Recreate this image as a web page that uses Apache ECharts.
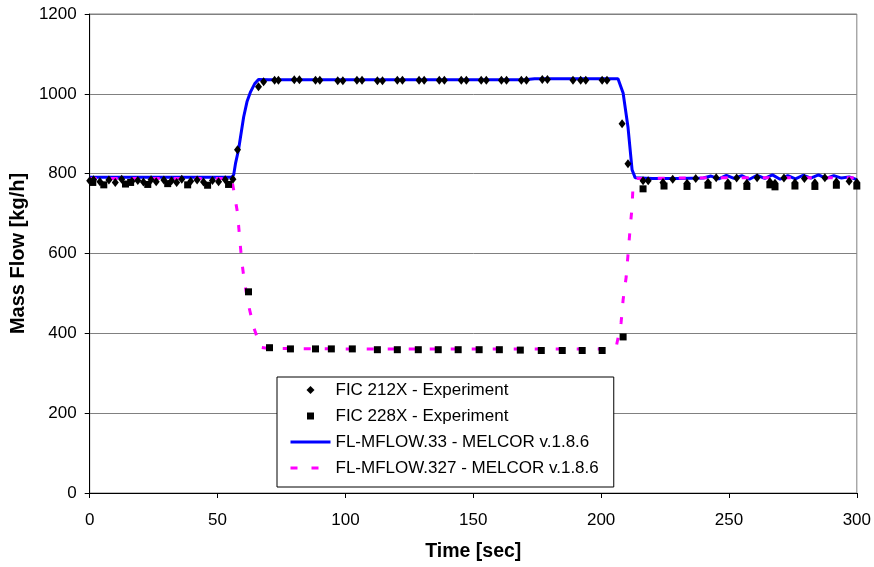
<!DOCTYPE html>
<html>
<head>
<meta charset="utf-8">
<script src="https://cdn.jsdelivr.net/npm/echarts@6/dist/echarts.min.js"></script>
<style>
  html, body { margin: 0; padding: 0; background: #fff; }
  #chart { width: 874px; height: 567px; }
</style>
</head>
<body>
<div id="chart"></div>
<script>
// ---- axis ticks ----
const xTicks = [0, 50, 100, 150, 200, 250, 300];
const yTicks = [0, 200, 400, 600, 800, 1000, 1200];

// ---- series names ----
const seriesNames = [
  'FIC 212X - Experiment',
  'FIC 228X - Experiment',
  'FL-MFLOW.33 - MELCOR v.1.8.6',
  'FL-MFLOW.327 - MELCOR v.1.8.6'
];

// ---- FIC 212X experiment (diamonds) [time, kg/h] ----
const fic212x = [
  [0, 782], [1.5, 785], [4, 780], [7.5, 784], [10, 778], [12.5, 786], [16.5, 781], [18.8, 783],
  [21, 779], [24, 785], [26, 780], [29, 784], [32, 782], [34, 778], [36, 786], [39.5, 781],
  [42, 784], [44.5, 779], [48, 783], [50.4, 780], [53, 785], [56, 786],
  [57.8, 860], [66, 1018], [68, 1030], [72.3, 1034], [73.8, 1034], [80, 1035], [82, 1035],
  [88.3, 1034], [90, 1034], [97, 1033], [99, 1033], [104.5, 1034], [106.5, 1034],
  [112.5, 1033], [114.5, 1033], [120.3, 1034], [122.3, 1034], [128.8, 1034], [130.8, 1034],
  [136.7, 1034], [138.7, 1034], [145.3, 1034], [147.3, 1034], [153.1, 1034], [155.1, 1034],
  [161, 1034], [163, 1034], [168.8, 1034], [170.8, 1034], [177, 1036], [179, 1036],
  [189, 1034], [192, 1034], [194, 1034], [200.4, 1034], [202.3, 1034],
  [208.2, 925], [210.5, 825], [216.4, 782], [218.4, 782],
  [224.2, 778], [228, 786], [233.6, 776], [237, 788], [241.8, 778], [245, 790], [249.6, 777],
  [253, 789], [257, 776], [261, 790], [266, 780], [268, 776], [271.5, 789], [275.8, 777],
  [279.5, 788], [283.6, 777], [287.5, 790], [292, 780], [297, 781], [300, 778]
];

// ---- FIC 228X experiment (squares) [time, kg/h] ----
const fic228x = [
  [1.2, 778], [5.5, 772], [14, 774], [16, 778], [22.7, 773], [30.5, 775], [38.3, 772],
  [46.1, 771], [54.3, 773],
  [62.1, 504], [70.3, 364], [78.5, 361], [88.3, 361], [94.5, 361], [102.7, 361],
  [112.5, 359], [120.3, 359], [128.5, 359], [136.3, 359], [144.1, 359], [152.3, 359],
  [160.2, 359], [168.4, 358], [176.6, 357], [184.8, 357], [192.6, 357], [200.4, 357],
  [208.6, 391],
  [216.4, 762], [224.6, 769], [233.6, 768], [241.8, 771], [249.6, 769], [257, 768],
  [266, 772], [268, 767], [275.8, 769], [283.6, 768], [292, 771], [300, 769]
];

// ---- FL-MFLOW.33 MELCOR (blue solid) [time, kg/h] ----
const mflow33 = [
  [0, 791], [20, 791], [40, 791], [55.5, 791], [56.3, 797], [57, 825], [58.2, 860],
  [60.2, 942], [61.5, 980], [62.9, 1005], [64.5, 1025], [66, 1036], [70, 1035],
  [100, 1035], [130, 1035], [160, 1035], [170, 1035], [174, 1038], [200, 1038],
  [206.6, 1038], [208.6, 1002], [210.5, 917], [212.1, 810], [213.3, 790], [220, 788],
  [230, 788], [240, 789], [243, 794], [246, 787], [249, 796], [252, 788], [255, 795],
  [258, 786], [261, 796], [264, 788], [267, 797], [270, 786], [273, 795], [276, 787],
  [279, 796], [282, 789], [285, 797], [288, 788], [291, 795], [294, 789], [297, 792],
  [300, 785]
];

// ---- FL-MFLOW.327 MELCOR (magenta dashed) [time, kg/h] ----
const mflow327 = [
  [0, 788], [55.5, 788], [56.3, 759], [57.8, 702], [58.6, 642], [59.4, 584], [60.5, 529],
  [62.1, 471], [64.1, 416], [66.8, 365], [70, 362], [100, 361], [150, 361], [200, 361],
  [205.9, 366], [207.8, 426], [208.6, 484], [209.8, 541], [210.5, 596], [211.3, 659],
  [212.1, 717], [212.5, 772], [214, 788], [250, 790], [300, 790]
];

const FONT = 'Liberation Sans, Arial, sans-serif';
const chart = echarts.init(document.getElementById('chart'), null, { renderer: 'canvas' });

chart.setOption({
  animation: false,
  backgroundColor: '#ffffff',
  grid: {
    left: 89, top: 14, right: 17, bottom: 74,
    show: true, borderColor: '#808080', borderWidth: 1, backgroundColor: 'transparent'
  },
  xAxis: {
    type: 'value',
    min: xTicks[0], max: xTicks[xTicks.length - 1], interval: xTicks[1] - xTicks[0],
    name: 'Time [sec]', nameLocation: 'middle', nameGap: 49,
    nameTextStyle: { fontFamily: FONT, fontWeight: 'bold', fontSize: 19.5, color: '#000' },
    axisLine: { onZero: false, lineStyle: { color: '#000', width: 1 } },
    axisTick: { show: true, inside: false, length: 5, lineStyle: { color: '#000' } },
    axisLabel: { fontFamily: FONT, fontSize: 17, color: '#000', margin: 19, formatter: v => String(v) },
    splitLine: { show: false }
  },
  yAxis: {
    type: 'value',
    min: yTicks[0], max: yTicks[yTicks.length - 1], interval: yTicks[1] - yTicks[0],
    name: 'Mass Flow [kg/h]', nameLocation: 'middle', nameGap: 61,
    nameTextStyle: { fontFamily: FONT, fontWeight: 'bold', fontSize: 20, color: '#000' },
    axisLine: { show: true, lineStyle: { color: '#000', width: 1 } },
    axisTick: { show: true, inside: false, length: 5, lineStyle: { color: '#000' } },
    axisLabel: { fontFamily: FONT, fontSize: 17, color: '#000', margin: 13, formatter: v => String(v) },
    splitLine: { show: true, lineStyle: { color: '#808080', width: 1 } }
  },
  legend: {
    orient: 'vertical',
    left: 277, top: 377,
    padding: [4, 15, 10, 12],
    itemGap: 8,
    itemWidth: 40, itemHeight: 8,
    backgroundColor: '#ffffff',
    borderColor: '#000', borderWidth: 1, borderRadius: 0,
    textStyle: { fontFamily: FONT, fontSize: 17, color: '#000', lineHeight: 18 },
    data: [
      { name: seriesNames[0], icon: 'path://M0,0M40,8M20,0L24,4L20,8L16,4Z', itemStyle: { color: '#000' } },
      { name: seriesNames[1], icon: 'path://M0,0M40,8M16.5,0.5L23.5,0.5L23.5,7.5L16.5,7.5Z', itemStyle: { color: '#000' } },
      { name: seriesNames[2], itemStyle: { color: 'transparent', opacity: 0, borderWidth: 0 },
        lineStyle: { color: '#0000ff', width: 3 } },
      { name: seriesNames[3], itemStyle: { color: 'transparent', opacity: 0, borderWidth: 0 },
        lineStyle: { color: '#ff00ff', width: 3, type: [7, 14] } }
    ]
  },
  series: [
    {
      name: seriesNames[2], type: 'line', data: mflow33, showSymbol: false, symbol: 'none',
      lineStyle: { color: '#0000ff', width: 3 }, itemStyle: { color: '#0000ff' }, z: 2
    },
    {
      name: seriesNames[3], type: 'line', data: mflow327, showSymbol: false, symbol: 'none',
      lineStyle: { color: '#ff00ff', width: 3, type: [7, 14] }, itemStyle: { color: '#ff00ff' }, z: 2
    },
    {
      name: seriesNames[0], type: 'scatter', data: fic212x, symbol: 'diamond', symbolSize: [7, 9],
      itemStyle: { color: '#000', opacity: 1 }, z: 4
    },
    {
      name: seriesNames[1], type: 'scatter', data: fic228x, symbol: 'rect', symbolSize: 7,
      itemStyle: { color: '#000', opacity: 1 }, z: 3
    }
  ]
});
</script>
</body>
</html>
